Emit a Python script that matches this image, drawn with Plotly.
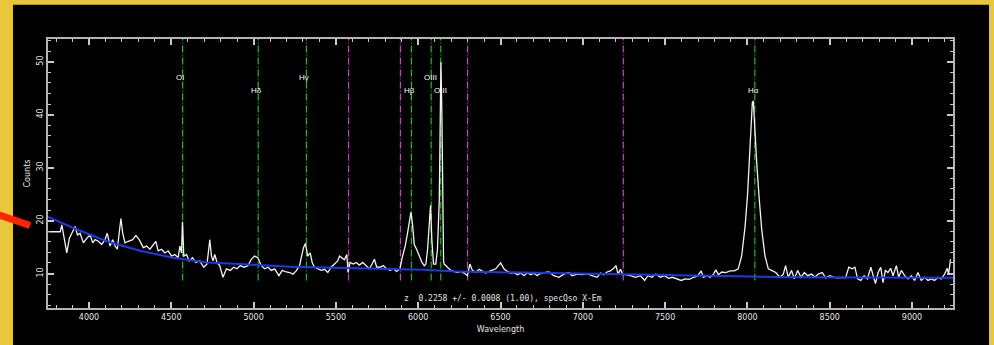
import plotly.graph_objects as go

# ---------------- data ----------------
wave = [3754, 3825, 3835, 3849, 3865, 3881, 3896, 3916, 3930, 3946,
        3966, 3987, 4007, 4023, 4037, 4057, 4077, 4097, 4111, 4128,
        4144, 4158, 4172, 4184, 4194, 4205, 4219, 4239, 4265, 4285,
        4305, 4330, 4350, 4370, 4390, 4406, 4420, 4441, 4461, 4481,
        4502, 4522, 4542, 4552, 4562, 4568, 4576, 4593, 4608, 4629,
        4649, 4673, 4697, 4717, 4734, 4744, 4754, 4764, 4778, 4794,
        4814, 4835, 4859, 4879, 4899, 4920, 4940, 4966, 4986, 5006,
        5026, 5047, 5067, 5087, 5108, 5128, 5154, 5174, 5198,
        5219, 5239, 5259, 5279, 5289, 5303, 5315, 5329, 5344, 5356,
        5370, 5390, 5411, 5431, 5451, 5471, 5491, 5511, 5522, 5538,
        5552, 5566, 5574, 5586, 5606, 5623, 5643, 5663, 5683, 5703,
        5720, 5734, 5748, 5768, 5788, 5808, 5829, 5849, 5869, 5889,
        5905, 5921, 5935, 5946, 5956, 5966, 5976, 5990, 6006, 6023,
        6037, 6047, 6057, 6067, 6075, 6083, 6093, 6107, 6117, 6128,
        6135, 6138, 6144, 6149, 6154, 6158, 6178, 6198, 6218, 6238,
        6259, 6279, 6299, 6314, 6329, 6350, 6370, 6390, 6410, 6431,
        6451, 6471, 6487, 6501, 6521, 6541, 6562, 6582, 6602, 6623,
        6643, 6663, 6683, 6703, 6723,
        6734, 6764, 6794, 6824, 6855, 6885, 6915, 6935, 6966, 6996,
        7026, 7056, 7087, 7107, 7127, 7147, 7168, 7188, 7202, 7214,
        7229, 7243, 7263, 7289, 7320, 7350, 7376, 7396, 7420, 7444,
        7471, 7497, 7521, 7545, 7572, 7598, 7622, 7647, 7673, 7699,
        7719, 7733, 7753, 7774, 7794, 7808, 7824, 7844, 7868, 7895,
        7921, 7944, 7965, 7986, 8001, 8010, 8022, 8030, 8036, 8047,
        8056, 8071, 8087, 8107, 8127, 8147, 8172, 8198, 8218, 8232,
        8248, 8268, 8285, 8305, 8325, 8346, 8366, 8390, 8410, 8430,
        8455, 8475, 8501, 8527, 8552, 8576, 8596, 8616, 8637, 8653,
        8669, 8689, 8709, 8729, 8750, 8764, 8778, 8794, 8810, 8824,
        8838, 8854, 8870, 8885, 8905, 8919, 8935, 8955, 8976, 8996,
        9016, 9036, 9056, 9077, 9097, 9117, 9137, 9158, 9178, 9198,
        9214, 9222, 9234]

counts = [17.9, 17.9, 19.2, 16.4, 13.9, 16.7, 17.6, 18.9, 17.3, 17.6,
          15.8, 16.7, 17.3, 15.8, 16.4, 16.1, 15.5, 16.4, 17.6, 15.2,
          16.4, 15.2, 14.6, 18.3, 20.4, 17.6, 15.8, 16.1, 16.4, 17.2,
          16.4, 14.9, 15.2, 14.6, 15.5, 16.1, 14.3, 14.6, 13.9, 14.3,
          13.3, 13.6, 13.0, 15.2, 13.9, 19.8, 13.3, 13.6, 12.4, 13.0,
          12.1, 12.4, 11.2, 11.8, 16.4, 13.3, 12.4, 13.6, 12.1, 11.5,
          9.3, 10.9, 10.6, 11.2, 10.9, 11.5, 11.2, 11.5, 12.7, 13.3,
          13.0, 11.5, 10.9, 11.2, 10.6, 10.9, 9.6, 10.6, 10.3,
          10.2, 9.9, 10.5, 11.5, 12.7, 14.9, 15.7, 13.3, 13.9, 12.1,
          11.2, 10.9, 10.6, 10.8, 10.2, 11.2, 11.8, 12.4, 13.3, 13.0,
          12.6, 13.6, 10.2, 12.1, 11.8, 12.1, 11.6, 12.1, 11.5, 10.9,
          11.8, 12.7, 11.2, 11.2, 11.5, 10.9, 10.6, 10.9, 10.4, 10.9,
          13.3, 15.2, 17.6, 19.8, 21.6, 19.2, 15.5, 14.6, 13.3, 12.1,
          11.5, 11.8, 14.6, 19.8, 22.9, 16.4, 11.8, 11.8, 14.6, 23.8,
          42.0, 49.9, 40.0, 20.0, 12.4, 11.8, 11.2, 10.6, 10.4, 10.2,
          10.4, 10.1, 9.6, 11.8, 10.6, 10.2, 10.8, 10.4, 10.1, 10.4,
          10.6, 10.9, 11.5, 12.0, 10.9, 10.4, 10.1, 10.2, 9.8, 10.1,
          9.6, 10.2, 9.8, 10.1, 9.6,
          9.9, 10.2, 10.3, 9.6, 9.3, 9.9, 10.2, 9.6, 9.9, 9.8,
          10.0, 9.6, 9.3, 10.1, 9.8, 10.3, 10.5, 11.0, 11.5, 9.9,
          10.8, 9.8, 9.8, 9.6, 9.3, 9.6, 8.7, 9.6, 9.3, 9.9,
          9.3, 9.6, 9.1, 9.3, 9.0, 8.7, 9.0, 8.9, 9.3, 9.6,
          10.5, 9.3, 9.6, 9.3, 9.9, 10.7, 9.8, 10.3, 10.2, 10.5,
          10.5, 10.9, 13.3, 18.9, 25.0, 30.6, 38.6, 42.3, 42.6, 35.5,
          31.2, 24.4, 18.3, 13.3, 10.9, 10.6, 10.2, 9.3, 9.9, 11.5,
          9.3, 10.6, 9.0, 10.6, 9.3, 10.2, 9.6, 9.9, 9.3, 9.9,
          10.2, 9.2, 9.6, 9.3, 9.2, 9.3, 9.2, 11.2, 10.9, 11.2,
          9.0, 8.7, 9.6, 9.0, 11.2, 9.6, 8.1, 10.2, 11.2, 8.3,
          10.6, 10.2, 11.0, 9.6, 11.5, 9.3, 10.6, 9.6, 9.0, 9.6,
          8.7, 10.2, 8.7, 9.3, 8.7, 9.0, 8.7, 9.3, 9.0, 9.9,
          11.0, 9.9, 12.7]

cont_wave = [3751, 3905, 4108, 4310, 4510, 4715, 4917, 5118, 5221,
             5626, 6031, 6234, 6730, 7246, 7753, 8258, 9249]
cont_counts = [20.7, 18.6, 16.1, 14.3, 13.0, 12.1, 11.8, 11.5, 11.3,
               11.0, 10.7, 10.4, 10.1, 9.8, 9.5, 9.3, 9.2]

line_wave = [4569, 5028, 5321, 5959, 6079, 6137, 8045]
line_labels = ["OI", "Hδ", "Hγ", "Hβ", "OIII", "OIII", "Hα"]
sky_wave = [5577, 5892, 6300, 7246]

redshift_text = "z  0.2258 +/- 0.0008 (1.00), specQso X-Em"
x_ticks = [4000, 4500, 5000, 5500, 6000, 6500, 7000, 7500, 8000, 8500, 9000]
y_ticks = [10, 20, 30, 40, 50]

assert len(wave) == len(counts)

# ---------------- figure ----------------
XR = [3751, 9249]
YR = [3.5, 54.3]
LINE_BOTTOM = 8.7
label_rows = [0, 1, 0, 1, 0, 1, 1]
row_y = [47.0, 44.6]
DASH = "7px,2px,1px,2px"

fig = go.Figure()

# sky lines (magenta)
for w in sky_wave:
    fig.add_trace(go.Scatter(x=[w, w], y=[LINE_BOTTOM, YR[1]], mode="lines",
                             line=dict(color="#cc3ccc", width=1.2, dash=DASH),
                             hoverinfo="skip", showlegend=False))
# emission lines (green)
for w in line_wave:
    fig.add_trace(go.Scatter(x=[w, w], y=[LINE_BOTTOM, YR[1]], mode="lines",
                             line=dict(color="#12c412", width=1.2, dash=DASH),
                             hoverinfo="skip", showlegend=False))

fig.add_trace(go.Scatter(x=wave, y=counts, mode="lines",
                         line=dict(color="#f2f2f2", width=1.3),
                         showlegend=False))
fig.add_trace(go.Scatter(x=cont_wave, y=cont_counts, mode="lines",
                         line=dict(color="#1a3ae6", width=2),
                         showlegend=False))

for w, lab, r in zip(line_wave, line_labels, label_rows):
    fig.add_annotation(x=w, y=row_y[r], text=lab, showarrow=False,
                       xanchor="left", xshift=-9, yanchor="middle",
                       font=dict(family="Liberation Sans, DejaVu Sans", size=8,
                                 color="#ffffff"))

fig.add_annotation(xref="paper", yref="paper", x=0.503, y=0.0, yshift=3,
                   text=redshift_text, showarrow=False, xanchor="center",
                   yanchor="bottom",
                   font=dict(family="DejaVu Sans Mono", size=8, color="#e6e6e6"))

# background: black panel on yellow, red pointer
fig.add_shape(type="rect", xref="paper", yref="paper", x0=-0.0387, x1=1.0398,
              y0=-0.3, y1=1.1277, fillcolor="#000000", line_width=0, layer="below")
fig.add_shape(type="line", xref="paper", yref="paper", x0=-0.056, y0=0.348,
              x1=-0.0199, y1=0.3066, line=dict(color="#ff2400", width=7),
              layer="above")

axis_common = dict(showline=True, linecolor="#b4b4b4", linewidth=2,
                   mirror="allticks", ticks="inside", ticklen=6, tickwidth=1.5,
                   tickcolor="#c8c8c8", showgrid=False, zeroline=False,
                   tickfont=dict(family="DejaVu Sans", size=8, color="#e6e6e6"))

fig.update_xaxes(range=XR, tickvals=x_ticks,
                 minor=dict(ticks="inside", dtick=100, tick0=4000, ticklen=3,
                            tickcolor="#c8c8c8", tickwidth=1),
                 title=dict(text="Wavelength", standoff=6,
                            font=dict(family="DejaVu Sans", size=8, color="#e6e6e6")),
                 **axis_common)
fig.update_yaxes(range=YR, tickvals=y_ticks, tickangle=-90,
                 minor=dict(ticks="inside", dtick=2, tick0=0, ticklen=3,
                            tickcolor="#c8c8c8", tickwidth=1),
                 title=dict(text="Counts", standoff=4,
                            font=dict(family="DejaVu Sans", size=8, color="#e6e6e6")),
                 **axis_common)

fig.update_layout(width=994, height=345,
                  margin=dict(l=48, r=41, t=39, b=32),
                  paper_bgcolor="#e8c83a", plot_bgcolor="#000000")

fig.write_html("out.html")
